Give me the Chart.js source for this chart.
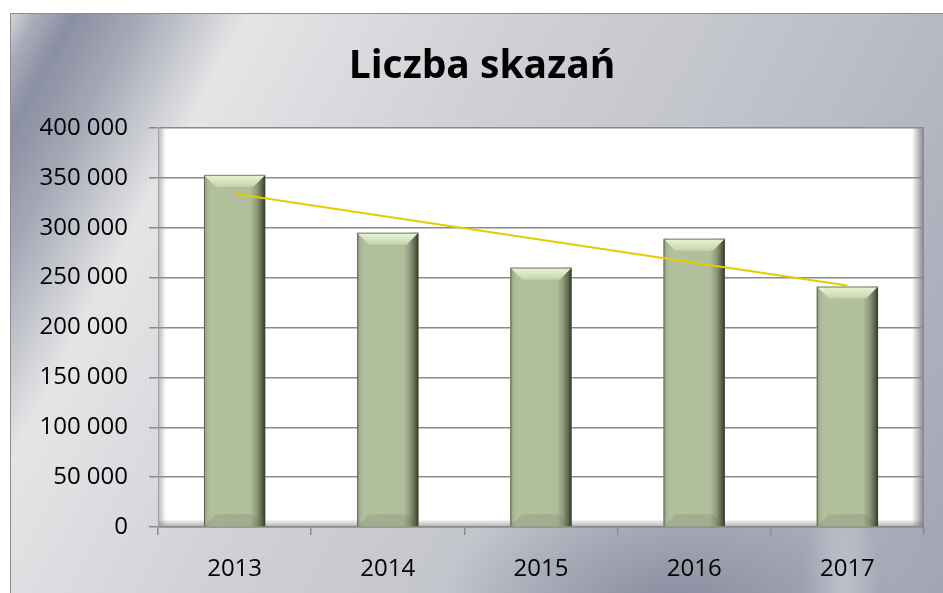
<!DOCTYPE html>
<html>
<head>
<meta charset="utf-8">
<script src="https://cdn.jsdelivr.net/npm/chart.js@4.4.1/dist/chart.umd.min.js"></script>
<style>
  html, body { margin: 0; padding: 0; background: #fff; }
  #wrap { position: relative; width: 943px; height: 593px; overflow: hidden; }
  #bg {
    position: absolute; left: 10px; top: 13px; width: 940px; height: 590px;
    border: 1px solid #8c8c8c; box-sizing: border-box;
    background:
      radial-gradient(ellipse 230px 140px at 660px 600px, rgba(118,124,146,0.75), rgba(118,124,146,0) 100%),
      radial-gradient(ellipse 40px 120px at 830px 590px, rgba(235,235,238,0.6), rgba(235,235,238,0) 100%),
      linear-gradient(118deg, #d3d5da 0%, #a9adba 2%, #8a8fa2 5%, #a3a7b5 10%, #e5e5e6 19%, #dcdde0 27%, #d0d1d6 40%, #c6c8ce 55%, #babdc6 70%, #aeb1bd 85%, #a1a5b3 100%);
  }
  canvas { position: absolute; left: 0; top: 0; }
</style>
</head>
<body>
<div id="wrap">
  <div id="bg"></div>
  <canvas id="chart" width="943" height="593"></canvas>
</div>
<script>
// dane
const years = ['2013', '2014', '2015', '2016', '2017'];
const convictions = [353000, 295000, 260000, 289000, 241000];
const trend = [334000, 311000, 288000, 265000, 242000];
const yTicks = [0, 50000, 100000, 150000, 200000, 250000, 300000, 350000, 400000];

const fontName = "'Open Sans', Lato, sans-serif";

function formatThousands(v) {
    return String(v).replace(/\B(?=(\d{3})+(?!\d))/g, ' ');
}

// białe tło obszaru wykresu z cieniem przy krawędziach
const plotAreaPlugin = {
    id: 'plotArea',
    afterLayout(chart) {
        // tytuł lekko w prawo, jak w oryginale
        if (chart.titleBlock) chart.titleBlock.left += 20;
    },
    beforeDraw(chart) {
        const { ctx, chartArea: a } = chart;
        ctx.save();
        ctx.fillStyle = '#ffffff';
        ctx.fillRect(a.left, a.top, a.right - a.left, a.bottom - a.top);

        let g = ctx.createLinearGradient(a.left, 0, a.left + 8, 0);
        g.addColorStop(0, 'rgba(120,120,120,0.55)');
        g.addColorStop(1, 'rgba(120,120,120,0)');
        ctx.fillStyle = g;
        ctx.fillRect(a.left, a.top, 8, a.bottom - a.top);

        g = ctx.createLinearGradient(a.right - 12, 0, a.right, 0);
        g.addColorStop(0, 'rgba(90,90,90,0)');
        g.addColorStop(1, 'rgba(90,90,90,0.75)');
        ctx.fillStyle = g;
        ctx.fillRect(a.right - 12, a.top, 12, a.bottom - a.top);

        g = ctx.createLinearGradient(0, a.bottom - 8, 0, a.bottom);
        g.addColorStop(0, 'rgba(120,120,120,0)');
        g.addColorStop(1, 'rgba(120,120,120,0.6)');
        ctx.fillStyle = g;
        ctx.fillRect(a.left, a.bottom - 8, a.right - a.left, 8);
        ctx.restore();
    }
};

// efekt fazy na słupkach
const bevelPlugin = {
    id: 'bevel',
    afterDatasetDraw(chart, args) {
        if (args.index !== 0) return;
        const ctx = chart.ctx;
        const meta = args.meta;
        ctx.save();
        meta.data.forEach(bar => {
            const w = bar.width;
            const left = bar.x - w / 2;
            const right = bar.x + w / 2;
            const top = bar.y;
            const bottom = bar.base;
            const b = 12;

            let g = ctx.createLinearGradient(left, 0, right, 0);
            g.addColorStop(0, '#8e9b7a');
            g.addColorStop(0.06, '#aab898');
            g.addColorStop(0.12, '#b2c09d');
            g.addColorStop(0.76, '#b0be9b');
            g.addColorStop(0.86, '#8f9b7c');
            g.addColorStop(0.95, '#5a6249');
            g.addColorStop(1, '#2f3527');
            ctx.fillStyle = g;
            ctx.fillRect(left, top, w, bottom - top);

            // górna faza
            g = ctx.createLinearGradient(0, top, 0, top + b);
            g.addColorStop(0, '#e9f3d8');
            g.addColorStop(0.5, '#d8e6c2');
            g.addColorStop(1, '#c3d2aa');
            ctx.fillStyle = g;
            ctx.beginPath();
            ctx.moveTo(left, top);
            ctx.lineTo(right, top);
            ctx.lineTo(right - b, top + b);
            ctx.lineTo(left + b, top + b);
            ctx.closePath();
            ctx.fill();

            // dolna faza
            ctx.fillStyle = 'rgba(80,90,65,0.15)';
            ctx.beginPath();
            ctx.moveTo(left, bottom);
            ctx.lineTo(right, bottom);
            ctx.lineTo(right - b, bottom - b);
            ctx.lineTo(left + b, bottom - b);
            ctx.closePath();
            ctx.fill();

            ctx.strokeStyle = 'rgba(60,68,50,0.6)';
            ctx.lineWidth = 1;
            ctx.beginPath();
            ctx.moveTo(left + 0.5, bottom);
            ctx.lineTo(left + 0.5, top + 0.5);
            ctx.lineTo(right - 0.5, top + 0.5);
            ctx.stroke();
        });
        ctx.restore();
    }
};

const ctx = document.getElementById('chart').getContext('2d');
const chart = new Chart(ctx, {
    data: {
        labels: years,
        datasets: [
            {
                type: 'bar',
                label: 'Liczba skazań',
                data: convictions,
                backgroundColor: '#b1bf9c',
                borderWidth: 0,
                categoryPercentage: 1,
                barPercentage: 0.4,
                order: 1
            },
            {
                type: 'line',
                label: 'Trend',
                data: trend,
                borderColor: '#e3cc00',
                borderWidth: 2,
                pointRadius: 0,
                fill: false,
                order: 0
            }
        ]
    },
    options: {
        responsive: false,
        animation: false,
        layout: { padding: { left: 20, right: 19, top: 0, bottom: 0 } },
        plugins: {
            legend: { display: false },
            tooltip: { enabled: false },
            title: {
                display: true,
                text: 'Liczba skazań',
                color: '#000',
                font: { family: fontName, size: 39, weight: 'bold', lineHeight: 1.2 },
                padding: { top: 43, bottom: 38.2 }
            }
        },
        scales: {
            x: {
                grid: {
                    offset: true,
                    drawOnChartArea: false,
                    drawTicks: true,
                    tickLength: 8,
                    color: '#8a8a8a',
                    lineWidth: 1.5
                },
                border: { display: true, color: '#8a8a8a', width: 1.5 },
                ticks: {
                    color: '#000',
                    padding: 20,
                    font: { family: fontName, size: 24 }
                },
                afterFit(scale) { scale.height = 66; }
            },
            y: {
                min: 0,
                max: 400000,
                afterBuildTicks(scale) {
                    scale.ticks = yTicks.map(v => ({ value: v }));
                },
                grid: {
                    color: '#8a8a8a',
                    lineWidth: 1.5,
                    drawTicks: true,
                    tickLength: 9
                },
                border: { display: true, color: '#a0a0a0', width: 1 },
                ticks: {
                    color: '#000',
                    padding: 21,
                    font: { family: fontName, size: 24 },
                    callback: v => formatThousands(v)
                },
                afterFit(scale) { scale.width = 138; }
            }
        }
    },
    plugins: [plotAreaPlugin, bevelPlugin]
});
</script>
</body>
</html>
